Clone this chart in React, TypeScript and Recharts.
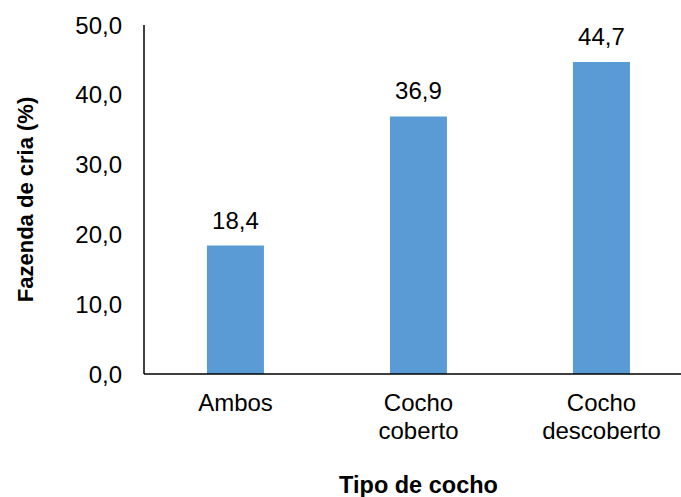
import React from "react";
import { BarChart, Bar, XAxis, YAxis, LabelList } from "recharts";

const categories = ["Ambos", "Cocho coberto", "Cocho descoberto"];
const values = [18.4, 36.9, 44.7];
const yTicks = [0, 10, 20, 30, 40, 50];

const data = categories.map((c, i) => ({ name: c, value: values[i] }));

const FONT = "Arial, 'Liberation Sans', sans-serif";
const fmt = (v: number) => v.toFixed(1).replace(".", ",");

const XTick = (props: any) => {
  const { x, y, payload } = props;
  const words = String(payload.value).split(" ");
  return (
    <text x={x} y={y} textAnchor="middle" fontFamily={FONT} fontSize={24} fill="#000">
      {words.map((w, i) => (
        <tspan key={i} x={x} dy={i === 0 ? 29 : 27.5}>
          {w}
        </tspan>
      ))}
    </text>
  );
};

export default function App() {
  return (
    <div style={{ position: "absolute", left: 0, top: 0, background: "#fff" }}>
      <BarChart
        width={681}
        height={497}
        data={data}
        margin={{ top: 25, right: -12, left: 0, bottom: 0 }}
        barCategoryGap="34.4%"
      >
        <XAxis
          dataKey="name"
          height={123}
          tickLine={false}
          axisLine={{ stroke: "#000", strokeWidth: 1.5 }}
          tick={<XTick />}
          interval={0}
          label={{
            value: "Tipo de cocho",
            position: "insideBottom",
            offset: 4,
            style: { fontFamily: FONT, fontSize: 23.5, fontWeight: "bold", fill: "#000" },
          }}
        />
        <YAxis
          width={144}
          domain={[0, 50]}
          ticks={yTicks}
          tickFormatter={fmt}
          tickLine={false}
          tickSize={0}
          tickMargin={22}
          axisLine={{ stroke: "#000", strokeWidth: 1.5 }}
          tick={{ fontFamily: FONT, fontSize: 24, fill: "#000" }}
          label={{
            value: "Fazenda de cria (%)",
            angle: -90,
            position: "insideLeft",
            offset: 0,
            dx: 25,
            style: { fontFamily: FONT, fontSize: 22, fontWeight: "bold", fill: "#000", textAnchor: "middle" },
          }}
        />
        <Bar dataKey="value" fill="#5b9bd5" isAnimationActive={false}>
          <LabelList
            dataKey="value"
            position="top"
            offset={17}
            formatter={(v: any) => fmt(Number(v))}
            style={{ fontFamily: FONT, fontSize: 24, fill: "#000" }}
          />
        </Bar>
      </BarChart>
    </div>
  );
}
